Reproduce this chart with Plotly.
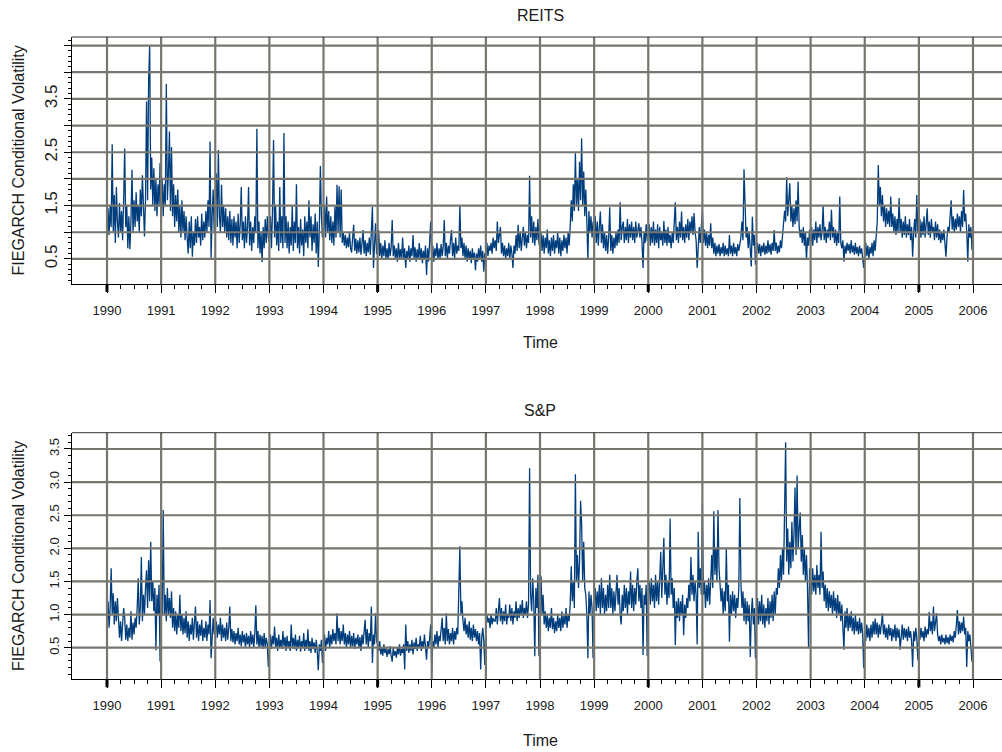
import plotly.graph_objects as go

# ---------------- data (weekly readings, by year) ----------------
years = list(range(1990, 2006))
tick_years = list(range(1990, 2007))

reits_1990 = [0.65, 1.45, 0.95, 1.5, 1.1, 2.65, 1.0, 1.7, 0.8, 1.85, 1.2, 0.9, 1.55, 1.0, 1.4, 0.85, 1.6, 2.57, 1.1, 1.5, 0.7, 1.3, 0.68, 1.2, 2.17, 1.0, 1.6, 1.1, 1.75, 1.2, 1.5, 1.0, 1.8, 1.3, 2.07, 1.3, 0.92, 1.6, 3.45, 1.6, 3.85, 4.49, 1.8, 2.4, 1.5, 2.2, 1.4, 2.0, 1.3, 1.9, 1.5, 2.3]
reits_1991 = [1.4, 2.0, 1.3, 1.9, 1.5, 3.78, 1.6, 2.1, 2.89, 1.4, 2.6, 1.3, 1.9, 1.1, 1.7, 1.2, 1.8, 1.0, 1.5, 0.9, 1.6, 1.0, 1.4, 0.85, 1.3, 0.9, 0.6, 1.2, 0.7, 1.3, 0.54, 1.0, 0.75, 1.25, 0.8, 1.3, 0.9, 1.1, 0.75, 1.35, 0.85, 1.2, 0.9, 1.4, 1.0, 1.6, 1.1, 2.7, 0.52, 1.3, 1.8, 1.0]
reits_1992 = [1.5, 2.1, 1.1, 2.54, 1.3, 1.0, 1.89, 1.1, 1.5, 1.0, 1.45, 0.9, 1.3, 0.85, 1.4, 0.8, 1.25, 0.75, 1.3, 0.9, 1.2, 0.7, 1.35, 0.8, 1.15, 1.85, 0.85, 1.2, 0.7, 1.3, 0.8, 1.1, 1.85, 0.75, 1.2, 0.65, 1.1, 0.8, 1.3, 1.0, 2.94, 0.7, 1.2, 0.6, 1.0, 0.44, 1.1, 0.7, 1.25, 0.8, 1.3, 0.9]
reits_1993 = [0.8, 1.3, 0.7, 1.4, 2.73, 0.9, 1.5, 0.75, 1.2, 0.65, 1.85, 0.8, 1.3, 0.7, 2.86, 0.8, 1.3, 0.7, 1.2, 0.6, 1.1, 0.75, 1.5, 0.65, 1.2, 0.8, 1.9, 0.7, 1.1, 0.6, 1.25, 0.75, 1.05, 0.55, 1.3, 0.8, 1.2, 0.7, 1.6, 0.9, 1.3, 0.65, 1.15, 0.8, 1.35, 0.6, 1.2, 0.35, 1.1, 2.24, 1.3, 0.9]
reits_1994 = [1.0, 1.5, 0.9, 1.67, 1.0, 1.4, 0.85, 1.3, 0.8, 1.2, 0.75, 1.5, 0.9, 1.89, 1.0, 1.86, 0.9, 1.8, 0.8, 1.0, 0.75, 0.95, 0.7, 0.9, 0.72, 1.0, 0.7, 0.62, 0.9, 1.14, 0.65, 0.88, 0.6, 0.85, 0.62, 0.9, 0.58, 0.8, 1.04, 0.6, 0.85, 0.55, 0.8, 0.62, 0.9, 0.58, 0.95, 1.48, 0.33, 0.8, 1.17, 0.6]
reits_1995 = [0.6, 1.04, 0.55, 0.8, 0.5, 0.75, 0.55, 0.85, 0.5, 0.7, 0.48, 0.8, 0.55, 0.72, 1.23, 0.55, 0.75, 0.5, 0.7, 0.45, 0.8, 0.52, 0.68, 0.48, 0.9, 0.5, 0.7, 0.33, 0.65, 0.5, 0.75, 0.45, 0.7, 0.55, 0.95, 0.5, 0.72, 0.45, 0.68, 0.5, 0.8, 0.48, 0.7, 0.42, 0.65, 0.5, 0.75, 0.2, 0.7, 0.45, 0.8, 1.2]
reits_1996 = [0.5, 0.75, 0.45, 0.7, 0.55, 0.8, 0.48, 0.7, 0.5, 0.78, 0.55, 0.72, 1.23, 0.55, 0.8, 0.5, 0.75, 0.6, 0.85, 1.04, 0.55, 0.8, 0.5, 0.9, 0.6, 0.75, 0.65, 1.51, 0.7, 0.9, 0.55, 0.8, 0.5, 0.75, 0.45, 0.7, 0.5, 0.65, 0.42, 0.7, 0.48, 0.62, 0.29, 0.6, 0.45, 0.7, 0.5, 0.75, 0.45, 0.65, 0.26, 0.6]
reits_1997 = [0.6, 0.8, 0.55, 0.75, 0.65, 0.8, 0.6, 0.9, 0.7, 0.85, 0.65, 1.2, 0.8, 0.95, 1.1, 0.6, 0.8, 0.55, 0.75, 0.5, 0.7, 0.55, 0.8, 0.5, 0.75, 0.6, 0.33, 0.75, 0.6, 0.95, 0.65, 1.14, 0.7, 1.0, 0.65, 0.9, 1.1, 0.75, 1.0, 0.7, 0.95, 0.8, 2.06, 0.9, 1.3, 0.8, 1.2, 0.75, 1.1, 0.85, 1.25, 0.8]
reits_1998 = [0.7, 1.0, 0.65, 0.95, 0.6, 0.9, 0.7, 1.05, 0.6, 0.85, 0.55, 0.9, 0.65, 0.95, 0.6, 0.85, 0.7, 1.0, 0.6, 0.9, 0.55, 0.85, 0.65, 0.95, 0.7, 0.9, 0.6, 1.0, 0.75, 1.1, 1.6, 1.2, 1.9, 1.4, 2.48, 1.5, 2.0, 1.4, 2.32, 1.6, 2.76, 1.5, 2.14, 1.3, 1.8, 1.2, 0.48, 1.4, 1.0, 1.3, 0.9, 1.2]
reits_1999 = [0.9, 1.3, 0.8, 1.2, 0.75, 1.1, 1.39, 0.8, 1.15, 0.7, 1.0, 0.65, 0.95, 0.6, 0.9, 1.47, 0.65, 0.95, 0.6, 0.9, 0.7, 1.0, 0.75, 1.05, 0.8, 1.56, 0.85, 1.1, 1.2, 0.8, 1.1, 0.85, 1.25, 0.8, 1.15, 0.9, 1.2, 0.85, 1.1, 0.8, 1.2, 0.9, 1.05, 1.17, 0.9, 1.1, 0.8, 0.33, 1.0, 0.8, 1.15, 0.85]
reits_2000 = [0.85, 1.15, 0.75, 1.1, 0.8, 1.2, 0.75, 1.05, 0.8, 1.15, 0.7, 1.1, 0.85, 1.0, 0.75, 1.21, 0.8, 1.05, 0.75, 1.1, 0.8, 0.95, 0.7, 1.0, 0.8, 1.1, 1.56, 0.85, 1.1, 0.8, 1.2, 0.9, 1.39, 0.85, 1.1, 0.8, 1.15, 0.9, 1.25, 0.85, 1.2, 1.0, 1.3, 0.95, 1.36, 1.0, 0.85, 0.33, 0.9, 1.1, 0.8, 1.05]
reits_2001 = [1.42, 0.8, 1.05, 0.75, 1.0, 0.7, 0.95, 0.75, 1.17, 0.7, 0.9, 0.6, 0.8, 0.55, 0.75, 0.6, 0.78, 0.55, 0.72, 0.6, 0.8, 0.55, 0.75, 0.58, 0.7, 0.55, 0.95, 0.6, 0.75, 0.55, 0.8, 0.6, 0.72, 0.55, 0.78, 0.65, 0.8, 0.9, 1.2, 0.85, 2.18, 1.3, 0.9, 1.1, 0.7, 1.0, 0.65, 0.36, 1.29, 0.75, 0.95, 0.39]
reits_2002 = [0.65, 0.8, 0.6, 0.78, 0.55, 0.75, 0.62, 0.8, 0.58, 0.75, 0.6, 0.85, 0.62, 0.78, 0.58, 0.8, 0.65, 1.04, 0.65, 0.8, 0.6, 0.75, 0.62, 0.85, 0.7, 0.95, 1.1, 1.4, 1.2, 2.03, 1.3, 1.6, 1.92, 1.2, 1.5, 1.1, 1.45, 1.15, 1.6, 1.2, 1.95, 1.1, 0.9, 1.05, 0.8, 1.1, 0.75, 1.0, 0.48, 0.9, 0.75, 1.05]
reits_2003 = [0.8, 1.1, 0.75, 1.05, 0.85, 1.2, 0.8, 1.1, 0.9, 1.15, 0.85, 1.0, 1.51, 0.85, 1.1, 0.8, 1.05, 0.9, 1.2, 0.85, 1.42, 0.9, 1.1, 0.8, 1.05, 0.75, 1.0, 0.8, 1.67, 0.8, 0.7, 0.85, 0.45, 0.75, 0.6, 0.8, 0.65, 0.78, 0.6, 0.85, 0.62, 0.75, 0.58, 0.8, 0.6, 0.72, 0.55, 0.75, 0.6, 0.7, 0.55, 0.33]
reits_2004 = [0.6, 0.8, 0.55, 0.75, 0.5, 0.72, 0.6, 0.8, 0.55, 0.85, 0.65, 0.9, 1.2, 2.26, 1.5, 1.85, 1.3, 1.7, 1.2, 1.5, 1.1, 1.45, 1.15, 1.4, 1.1, 1.67, 1.1, 1.35, 1.0, 1.3, 0.95, 1.25, 1.0, 1.64, 1.0, 1.25, 0.9, 1.2, 0.95, 1.3, 0.9, 1.15, 0.95, 1.25, 0.85, 1.1, 0.54, 1.0, 1.25, 0.9, 1.7, 1.0]
reits_2005 = [1.0, 1.25, 0.9, 1.2, 0.95, 1.3, 0.9, 1.15, 1.45, 0.95, 1.2, 0.9, 1.25, 1.0, 1.1, 0.85, 1.2, 0.9, 1.15, 0.85, 1.05, 0.8, 1.0, 0.85, 1.05, 0.8, 0.54, 0.9, 1.1, 1.0, 1.25, 1.6, 1.05, 1.3, 1.0, 1.25, 1.05, 1.35, 1.1, 1.3, 1.0, 1.4, 1.1, 1.79, 1.2, 1.35, 1.0, 0.45, 1.15, 0.9, 1.1, 0.67]

sp_1990 = [0.9, 1.2, 0.8, 1.1, 1.7, 1.0, 1.32, 0.85, 1.2, 0.9, 1.25, 0.8, 0.65, 0.9, 0.6, 0.85, 1.1, 0.95, 0.62, 0.85, 0.6, 0.8, 0.65, 1.05, 0.62, 0.88, 0.7, 0.95, 0.8, 1.1, 1.55, 0.85, 1.1, 1.87, 0.9, 1.3, 1.0, 1.4, 1.67, 1.1, 1.82, 1.2, 2.1, 1.2, 1.5, 1.05, 1.4, 0.46, 1.3, 1.0, 1.45, 0.29]
sp_1991 = [1.2, 1.0, 2.58, 1.0, 1.3, 0.9, 1.4, 1.0, 1.25, 0.95, 1.35, 0.8, 1.1, 0.75, 1.05, 0.7, 1.0, 0.8, 1.3, 0.75, 1.0, 0.7, 0.95, 0.72, 1.05, 0.65, 0.9, 0.6, 0.85, 0.7, 0.95, 0.62, 0.88, 1.12, 0.65, 0.9, 0.6, 0.85, 0.68, 0.92, 0.6, 0.8, 0.65, 0.9, 0.6, 0.85, 0.7, 1.22, 0.34, 0.8, 0.95, 0.7]
sp_1992 = [0.75, 0.9, 0.65, 0.85, 0.7, 0.95, 0.6, 0.85, 0.65, 0.8, 0.6, 0.88, 0.62, 0.8, 1.12, 0.6, 0.78, 0.58, 0.75, 0.55, 0.72, 0.6, 0.8, 0.55, 0.7, 0.52, 0.75, 0.58, 0.7, 0.5, 0.72, 0.55, 0.68, 0.5, 0.75, 0.55, 0.7, 0.5, 0.72, 1.14, 0.55, 0.75, 0.5, 0.7, 0.52, 0.68, 0.48, 0.72, 0.5, 0.65, 0.55, 0.21]
sp_1993 = [0.5, 0.7, 0.48, 0.68, 0.55, 0.82, 0.5, 0.65, 0.45, 0.7, 0.5, 0.62, 0.48, 0.75, 0.52, 0.66, 0.45, 0.68, 0.5, 0.6, 0.45, 0.85, 0.5, 0.65, 0.48, 0.7, 0.45, 0.62, 0.5, 0.68, 0.44, 0.6, 0.5, 0.72, 0.45, 0.62, 0.48, 0.78, 0.45, 0.6, 0.42, 0.65, 0.48, 0.58, 0.42, 0.62, 0.45, 0.16, 0.55, 0.45, 0.62, 0.27]
sp_1994 = [0.5, 0.7, 0.45, 0.65, 0.55, 0.75, 0.5, 0.7, 0.55, 0.78, 0.6, 0.72, 0.55, 1.02, 0.6, 0.8, 0.55, 0.75, 0.6, 0.85, 0.55, 0.72, 0.5, 0.7, 0.55, 0.75, 0.5, 0.68, 0.52, 0.72, 0.48, 0.65, 0.55, 0.7, 0.5, 0.66, 0.45, 0.7, 0.55, 0.75, 0.92, 0.55, 0.78, 0.5, 0.72, 0.6, 1.12, 0.27, 0.7, 0.55, 1.02, 0.6]
sp_1995 = [0.55, 0.45, 0.6, 0.4, 0.5, 0.38, 0.55, 0.42, 0.5, 0.36, 0.48, 0.4, 0.52, 0.38, 0.29, 0.5, 0.38, 0.45, 0.35, 0.5, 0.4, 0.55, 0.38, 0.48, 0.42, 0.55, 0.17, 0.85, 0.45, 0.6, 0.42, 0.55, 0.45, 0.62, 0.4, 0.58, 0.48, 0.65, 0.45, 0.55, 0.5, 0.68, 0.45, 0.6, 0.5, 0.7, 0.48, 0.32, 0.6, 0.5, 0.65, 0.85]
sp_1996 = [0.14, 0.6, 0.5, 0.7, 0.55, 0.75, 0.5, 0.68, 0.6, 0.78, 0.95, 0.6, 0.8, 0.55, 1.02, 0.6, 0.78, 0.55, 0.72, 0.6, 0.8, 0.55, 0.75, 0.62, 0.8, 0.7, 1.2, 2.03, 1.0, 1.2, 0.9, 0.75, 0.95, 0.7, 0.85, 0.65, 0.9, 0.62, 0.8, 0.6, 0.85, 0.65, 0.78, 0.6, 0.75, 0.55, 0.72, 0.17, 0.65, 0.8, 0.6, 0.24]
sp_1997 = [0.85, 1.0, 0.88, 0.95, 0.8, 1.0, 0.85, 0.95, 0.9, 0.9, 1.1, 0.85, 1.05, 1.25, 0.9, 1.1, 0.85, 1.05, 0.9, 1.15, 0.85, 1.0, 0.95, 1.15, 0.9, 1.1, 0.85, 1.05, 0.95, 1.2, 0.9, 1.1, 0.95, 1.15, 1.0, 1.22, 0.95, 1.1, 1.0, 1.2, 0.95, 1.15, 3.21, 1.3, 1.05, 1.55, 1.2, 0.37, 1.4, 1.1, 1.6, 0.37]
sp_1998 = [1.2, 1.58, 1.0, 1.3, 0.85, 1.05, 0.8, 1.0, 0.75, 0.95, 0.8, 1.1, 0.78, 0.95, 0.72, 0.9, 0.75, 1.0, 0.8, 0.95, 0.75, 1.05, 0.8, 0.98, 0.85, 1.1, 0.8, 1.0, 0.9, 1.15, 1.73, 1.2, 1.5, 1.1, 3.12, 1.5, 1.9, 1.4, 1.8, 2.72, 2.36, 1.5, 2.1, 1.4, 1.3, 1.0, 0.34, 1.35, 1.0, 1.3, 1.1, 0.34]
sp_1999 = [1.2, 1.4, 1.05, 1.35, 1.1, 1.45, 1.0, 1.55, 1.1, 1.4, 1.0, 1.3, 1.05, 1.45, 1.1, 1.6, 1.1, 1.4, 1.0, 1.35, 1.05, 1.4, 1.6, 1.15, 1.4, 1.0, 0.85, 1.3, 1.05, 1.45, 1.1, 1.4, 1.0, 1.35, 1.15, 1.65, 1.1, 1.45, 1.05, 1.4, 1.15, 1.5, 1.7, 1.2, 1.45, 1.1, 1.4, 0.39, 1.3, 1.15, 1.45, 0.37]
sp_2000 = [1.3, 1.5, 1.15, 1.55, 1.2, 1.45, 1.1, 1.6, 1.2, 1.5, 1.15, 1.55, 1.95, 1.25, 1.6, 2.16, 1.3, 1.6, 1.15, 1.5, 1.25, 2.45, 1.3, 1.55, 1.1, 1.4, 0.54, 1.2, 0.95, 1.25, 0.9, 1.2, 1.0, 1.3, 0.69, 1.15, 0.95, 1.25, 1.1, 1.45, 1.2, 1.87, 1.3, 1.6, 1.2, 1.5, 1.3, 0.55, 2.25, 1.4, 1.7, 1.3]
sp_2001 = [2.68, 1.3, 1.5, 1.1, 1.45, 1.2, 1.55, 1.15, 1.5, 1.9, 1.4, 2.56, 1.6, 2.0, 1.5, 2.58, 1.7, 1.4, 1.2, 1.4, 1.0, 1.35, 1.05, 2.0, 1.2, 1.45, 0.59, 1.3, 1.0, 1.35, 1.05, 1.3, 0.95, 1.25, 1.1, 1.4, 2.76, 1.5, 1.1, 1.35, 0.9, 1.25, 0.85, 1.2, 0.9, 1.15, 0.36, 1.0, 1.25, 0.85, 1.1, 0.34]
sp_2002 = [1.0, 1.25, 0.85, 1.2, 0.9, 1.3, 0.85, 1.15, 0.8, 1.1, 0.9, 1.25, 0.85, 1.2, 0.95, 1.3, 0.9, 1.35, 1.0, 1.4, 1.3, 1.7, 1.4, 1.9, 1.5, 2.0, 1.6, 2.87, 3.6, 1.8, 2.3, 1.6, 2.1, 1.7, 2.4, 1.8, 2.2, 2.92, 1.9, 3.1, 2.0, 2.3, 2.54, 1.8, 2.2, 1.6, 2.0, 1.5, 1.9, 1.4, 0.51, 1.7]
sp_2003 = [1.5, 1.3, 1.7, 1.35, 1.6, 1.3, 1.75, 1.4, 1.6, 1.3, 2.25, 1.4, 1.65, 1.2, 1.45, 1.1, 1.4, 1.05, 1.35, 1.1, 1.3, 1.0, 1.35, 1.05, 1.25, 0.95, 1.3, 1.0, 1.2, 0.9, 1.15, 0.85, 0.47, 1.05, 0.8, 1.1, 0.75, 1.0, 0.8, 1.05, 0.75, 0.95, 0.7, 1.0, 0.75, 0.9, 0.7, 0.95, 0.72, 0.88, 0.7, 0.19]
sp_2004 = [0.75, 0.6, 0.85, 0.65, 0.8, 0.6, 0.85, 0.65, 0.9, 0.7, 0.94, 0.7, 0.88, 0.65, 0.85, 0.7, 0.9, 1.02, 0.7, 0.85, 0.65, 0.8, 0.62, 0.85, 0.68, 0.8, 0.6, 0.78, 0.65, 0.85, 0.6, 0.8, 0.65, 0.78, 0.47, 0.7, 0.85, 0.62, 0.8, 0.65, 0.78, 0.6, 0.82, 0.65, 0.75, 0.6, 0.21, 0.75, 0.6, 0.8, 0.65, 0.31]
sp_2005 = [0.7, 0.62, 0.8, 0.65, 0.75, 0.6, 0.82, 0.65, 0.78, 0.7, 1.04, 0.75, 0.9, 0.7, 1.12, 0.75, 0.9, 1.02, 0.7, 0.6, 0.68, 0.55, 0.7, 0.58, 0.65, 0.55, 0.7, 0.57, 0.66, 0.55, 0.7, 0.6, 0.68, 0.58, 0.75, 0.65, 0.85, 1.07, 0.7, 0.9, 0.72, 0.88, 0.75, 0.97, 0.7, 0.8, 0.21, 0.75, 0.6, 0.7, 0.5, 0.29]

reits_years = [reits_1990, reits_1991, reits_1992, reits_1993, reits_1994, reits_1995, reits_1996, reits_1997,
               reits_1998, reits_1999, reits_2000, reits_2001, reits_2002, reits_2003, reits_2004, reits_2005]
sp_years = [sp_1990, sp_1991, sp_1992, sp_1993, sp_1994, sp_1995, sp_1996, sp_1997,
            sp_1998, sp_1999, sp_2000, sp_2001, sp_2002, sp_2003, sp_2004, sp_2005]

top_ticks = [0.5, 1.0, 1.5, 2.0, 2.5, 3.0, 3.5, 4.0, 4.5]
top_labels = ["0.5", "", "1.5", "", "2.5", "", "3.5", "", ""]
bot_ticks = [0.5, 1.0, 1.5, 2.0, 2.5, 3.0, 3.5]
bot_labels = ["0.5", "1.0", "1.5", "2.0", "2.5", "3.0", "3.5"]


def flatten(per_year):
    xs, ys = [], []
    for yr, vals in zip(years, per_year):
        n = len(vals)
        for i, v in enumerate(vals):
            xs.append(yr + i / n)
            ys.append(v)
    return xs, ys


rx, ry = flatten(reits_years)
sx, sy = flatten(sp_years)

# ---------------- styling ----------------
W, H = 1002, 752
LINE = "#003d7c"
GRID = "#76766e"
FONT = "Liberation Sans, Arial, Helvetica, sans-serif"
TXT = "#1a1a1a"

left_px = 72
xdom = [left_px / W, 1.0]
px_per_year = 54.125
x_lo = 1990 - (107 - left_px) / px_per_year
x_hi = x_lo + (W - left_px) / px_per_year

top_px = (37, 284)
bot_px = (432.7, 679.3)


def ydom(p):
    return [(H - p[1]) / H, (H - p[0]) / H]


fig = go.Figure()
fig.add_trace(go.Scatter(x=rx, y=ry, mode="lines", line=dict(color=LINE, width=1.3),
                         xaxis="x", yaxis="y", hoverinfo="skip"))
fig.add_trace(go.Scatter(x=sx, y=sy, mode="lines", line=dict(color=LINE, width=1.3),
                         xaxis="x2", yaxis="y2", hoverinfo="skip"))

minor_x = [yr + q for yr in years for q in (0.25, 0.5, 0.75)]


def xaxis_cfg(anchor):
    return dict(domain=xdom, range=[x_lo, x_hi], anchor=anchor,
                tickmode="array", tickvals=tick_years, ticktext=[str(t) for t in tick_years],
                ticks="outside", ticklen=8, tickwidth=1, tickcolor="black",
                showline=True, linecolor="black", linewidth=1,
                showgrid=False, zeroline=False,
                tickfont=dict(family=FONT, size=13, color=TXT),
                ticklabelstandoff=6,
                minor=dict(tickmode="array", tickvals=minor_x, ticks="outside",
                           ticklen=4, tickcolor="black", tickwidth=1, showgrid=False))


def yaxis_cfg(anchor, dom, rng, tv, tt, fsize, minor_vals):
    return dict(domain=dom, range=rng, anchor=anchor,
                tickmode="array", tickvals=tv, ticktext=tt,
                ticks="outside", ticklen=7, tickwidth=1, tickcolor="black",
                tickangle=-90, showline=True, linecolor="black", linewidth=1,
                showgrid=False, zeroline=False,
                tickfont=dict(family=FONT, size=fsize, color=TXT),
                minor=dict(tickmode="array", tickvals=minor_vals, ticks="outside",
                           ticklen=3, tickcolor="black", tickwidth=1, showgrid=False))


top_minor = [round(0.1 * k, 1) for k in range(1, 47) if k % 5 != 0]
bot_minor = [round(0.1 * k, 1) for k in range(1, 38) if k % 5 != 0]

fig.update_layout(
    width=W, height=H, margin=dict(l=0, r=0, t=0, b=0),
    paper_bgcolor="white", plot_bgcolor="white", showlegend=False,
    xaxis=xaxis_cfg("y"),
    yaxis=yaxis_cfg("x", ydom(top_px), [0.03, 4.66], top_ticks, top_labels, 17, top_minor),
    xaxis2=xaxis_cfg("y2"),
    yaxis2=yaxis_cfg("x2", ydom(bot_px), [0.023, 3.746], bot_ticks, bot_labels, 13, bot_minor),
)

shapes = []
for xa, ya, yt in (("x", "y", top_ticks), ("x2", "y2", bot_ticks)):
    for t in tick_years:
        shapes.append(dict(type="line", xref=xa, yref=ya + " domain", x0=t, x1=t, y0=0, y1=1,
                           line=dict(color=GRID, width=2.2), layer="above"))
    for v in yt:
        shapes.append(dict(type="line", xref=xa + " domain", yref=ya, x0=0, x1=1, y0=v, y1=v,
                           line=dict(color=GRID, width=2.2), layer="above"))
    # top border of the box
    shapes.append(dict(type="line", xref=xa + " domain", yref=ya + " domain", x0=0, x1=1, y0=1, y1=1,
                       line=dict(color="#333333", width=1), layer="above"))
    # heavier ticks every five years
    for t in (1990, 1995, 2000, 2005):
        shapes.append(dict(type="line", xref=xa, yref=ya + " domain", x0=t, x1=t, y0=0, y1=-8 / 247,
                           line=dict(color="black", width=3), layer="above"))
fig.update_layout(shapes=shapes)

ann = []
for title, p, xlab_y in (("REITS", top_px, 343), ("S&P", bot_px, 740)):
    title_y = p[0] - 22
    ann.append(dict(text=title, x=540 / W, y=(H - title_y) / H, xref="paper", yref="paper",
                    showarrow=False, xanchor="center", yanchor="middle",
                    font=dict(family=FONT, size=16, color=TXT)))
    ann.append(dict(text="Time", x=540 / W, y=(H - xlab_y) / H, xref="paper", yref="paper",
                    showarrow=False, xanchor="center", yanchor="middle",
                    font=dict(family=FONT, size=16, color=TXT)))
    ann.append(dict(text="FIEGARCH Conditional Volatility", x=18 / W, y=(H - (p[0] + p[1]) / 2) / H,
                    xref="paper", yref="paper", showarrow=False, textangle=-90,
                    xanchor="center", yanchor="middle",
                    font=dict(family=FONT, size=16, color=TXT)))
fig.update_layout(annotations=ann)

fig.write_html("out.html")
